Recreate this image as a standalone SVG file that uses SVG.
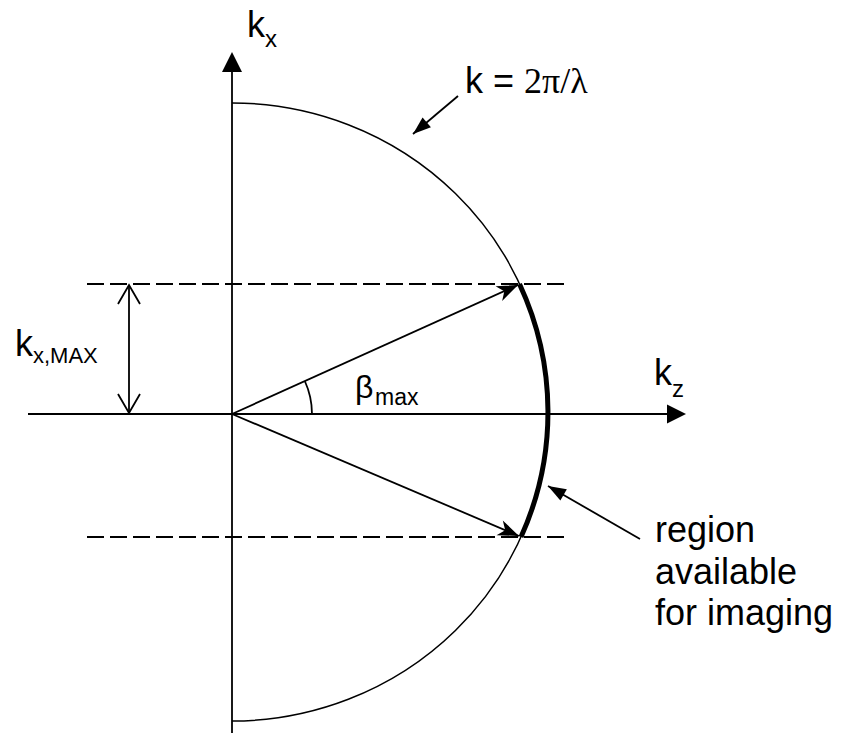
<svg xmlns="http://www.w3.org/2000/svg" width="842" height="733" viewBox="0 0 842 733">
<style>
.ln{stroke:#000;stroke-width:1.8;fill:none}
.dash{stroke:#000;stroke-width:1.8;fill:none;stroke-dasharray:17 6}
.t{font-family:"Liberation Sans",Arial,sans-serif;font-size:36px;fill:#000}
.s{font-family:"Liberation Sans",Arial,sans-serif;font-size:23px;fill:#000}
.sr{font-family:"Liberation Serif","Times New Roman",serif;font-size:36px;fill:#000}
</style>
<defs>
<marker id="barb" markerUnits="userSpaceOnUse" viewBox="-22 -10 24 20" refX="0" refY="0" markerWidth="24" markerHeight="20" orient="auto">
<path d="M0,0 L-21,-8 L-15,0 L-21,8 Z" fill="#000"/>
</marker>
<marker id="tri" markerUnits="userSpaceOnUse" viewBox="-20 -8 22 16" refX="0" refY="0" markerWidth="22" markerHeight="16" orient="auto">
<path d="M0,0 L-18,-6.5 L-18,6.5 Z" fill="#000"/>
</marker>
</defs>
<g id="axes">
<line class="ln" x1="232" y1="733" x2="232" y2="70"/>
<polygon points="232,52 222,72 242,72" fill="#000"/>
<line class="ln" x1="28" y1="414" x2="669" y2="414"/>
<polygon points="686,414 667,404.5 667,423.5" fill="#000"/>
</g>
<g id="circle">
<path class="ln" style="stroke-width:1.5" d="M232,103 A316,309 0 0 1 232,721"/>
</g>
<g id="region-arc">
<path d="M519.5,284 A316,309 0 0 1 521,537" fill="none" stroke="#000" stroke-width="5"/>
</g>
<g id="dashed-lines">
<line class="dash" x1="87" y1="284" x2="568" y2="284"/>
<line class="dash" x1="87" y1="537" x2="568" y2="537"/>
</g>
<g id="connectors">
<line class="ln" x1="232" y1="414" x2="518" y2="285" marker-end="url(#barb)"/>
<line class="ln" x1="232" y1="414" x2="519" y2="536" marker-end="url(#barb)"/>
<path class="ln" d="M232,414"/>
<line class="ln" x1="129" y1="286" x2="129" y2="412"/>
<polyline class="ln" points="118,304 129,285 140,304"/>
<polyline class="ln" points="118,394 129,413 140,394"/>
<line class="ln" x1="458" y1="96" x2="413" y2="134" marker-end="url(#tri)"/>
<line class="ln" x1="640" y1="539" x2="548" y2="486" marker-end="url(#tri)"/>
<path class="ln" d="M312,414 A80,80 0 0 0 304.8,381"/>
</g>
<g id="label-kx">
<text class="t" x="247" y="37">k</text>
<text class="s" x="265" y="47" style="font-size:24px">x</text>
</g>
<g id="label-k">
<text class="t" x="465" y="93">k = <tspan class="sr">2π/λ</tspan></text>
</g>
<g id="label-kxmax">
<text class="t" x="15" y="356">k</text>
<text class="s" x="33" y="363" style="font-size:22px">x,MAX</text>
</g>
<g id="label-beta">
<text class="t" x="355" y="398" style="font-size:32px">β</text>
<text class="s" x="375" y="405">max</text>
</g>
<g id="label-kz">
<text class="t" x="654" y="385">k</text>
<text class="s" x="672" y="397" style="font-size:24px">z</text>
</g>
<g id="label-region">
<text class="t" x="655" y="542">region</text>
<text class="t" x="655" y="584">available</text>
<text class="t" x="655" y="625">for imaging</text>
</g>
</svg>
